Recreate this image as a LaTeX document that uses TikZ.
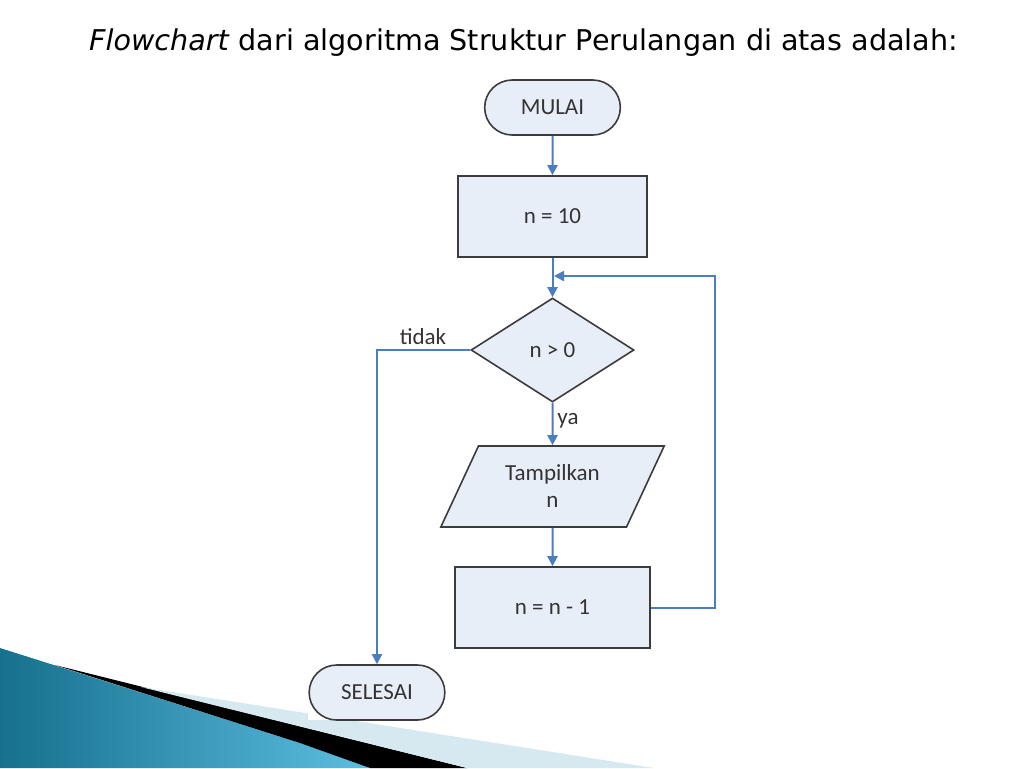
\documentclass[tikz,border=0pt]{standalone}
\usepackage{fontspec}
\setmainfont{DejaVu Sans}
\newfontfamily\flowfont{Carlito}
\usetikzlibrary{shapes.geometric,shapes.misc,arrows.meta}
\definecolor{isian}{RGB}{232,238,248}
\definecolor{garis}{RGB}{60,60,60}
\definecolor{alurbiru}{RGB}{74,126,193}
\definecolor{tealgelap}{RGB}{22,112,142}
\definecolor{tealterang}{RGB}{92,190,224}
\definecolor{biruabu}{RGB}{214,232,240}
\tikzset{
  bentuk/.style={draw=garis, fill=isian, line width=0.8pt, text=black!80,
    font=\flowfont\fontsize{11.5}{13.5}\selectfont},
  mulaiselesai/.style={bentuk, rounded rectangle, minimum width=74.5pt, minimum height=27.5pt},
  proses/.style={bentuk, rectangle, minimum height=40.5pt},
  keputusan/.style={bentuk, diamond, inner sep=0pt, minimum width=81.5pt, minimum height=52pt},
  masukan/.style={bentuk, trapezium, trapezium left angle=64, trapezium right angle=116,
    trapezium stretches=true, minimum width=112.5pt, minimum height=40.5pt, align=center},
  keterangan/.style={text=black!80, font=\flowfont\fontsize{11.5}{13.5}\selectfont},
  alur/.style={draw=alurbiru, line width=1pt, -{Triangle[length=5pt,width=5pt]}},
}
\begin{document}
\begin{tikzpicture}[x=0.5pt,y=-0.5pt]
  \useasboundingbox (0,0) rectangle (1024,768);

  % hiasan pojok kiri bawah
  \shade[left color=tealgelap, right color=tealterang] (0,648) -- (300,743) -- (370,768) -- (0,768) -- cycle;
  \fill[black] (55,665) -- (467,768) -- (370,768) -- (300,743) -- cycle;
  \fill[biruabu] (141,687) -- (654,768) -- (467,768) -- cycle;
  \fill[white] (308,72) rectangle (722,720);

  % judul
  \node (judul) [anchor=base, font=\fontsize{14.3}{17}\selectfont] at (523.5,50)
    {\textit{Flowchart} dari algoritma Struktur Perulangan di atas adalah:};

  % simbol flowchart
  \node (mulai) [mulaiselesai] at (552.5,107.5) {MULAI};
  \node (awal) [proses, minimum width=94.5pt] at (552.5,216.5) {n = 10};
  \node (cek) [keputusan] at (552.5,350) {n > 0};
  \node (tampil) [masukan] at (552.5,486.5) {Tampilkan\\n};
  \node (kurang) [proses, minimum width=97.5pt] at (552.5,607.5) {n = n - 1};
  \node (selesai) [mulaiselesai] at (377,692.5) {SELESAI};

  % titik bantu untuk perulangan
  \coordinate (pojok) at (715,276);
  \coordinate (gabung) at (554,276);

  % alur
  \draw[alur] (mulai) -- (awal);
  \draw[alur] (awal) -- (cek);
  \draw[alur] (cek) -- (tampil);
  \draw[alur] (tampil) -- (kurang);
  \draw[alur] (kurang.east) -| (pojok) -- (gabung);
  \draw[alur] (cek.west) -| (selesai.north);

  % label cabang
  \node (tidak) [keterangan] at (423,337) {tidak};
  \node (ya) [keterangan] at (568,421) {ya};
\end{tikzpicture}
\end{document}
